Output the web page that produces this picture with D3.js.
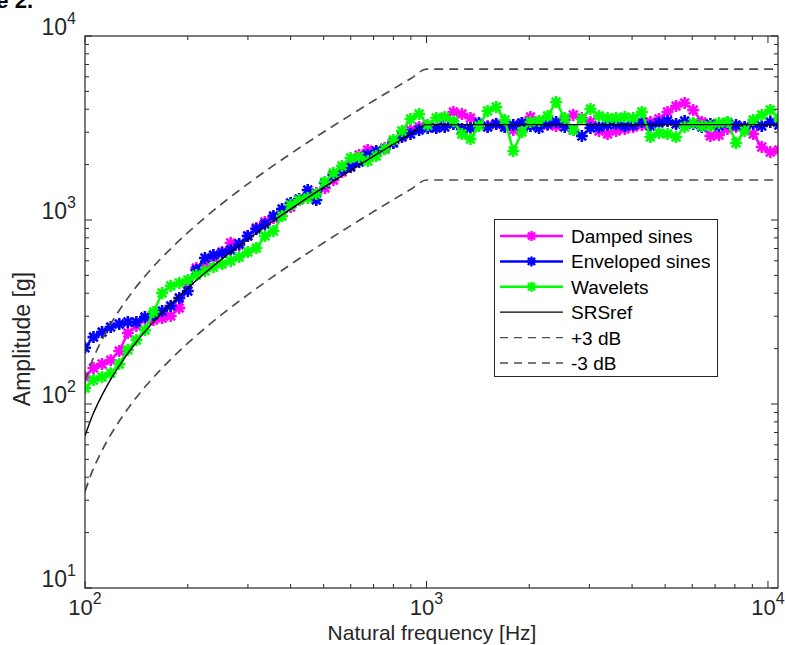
<!DOCTYPE html>
<html><head><meta charset="utf-8">
<script src="https://cdn.jsdelivr.net/npm/d3@7/dist/d3.min.js"></script>
<style>body{margin:0;background:#fff;} text{font-family:"Liberation Sans",Arial,Helvetica,sans-serif;}</style>
</head><body><svg id="chart" width="785" height="645"></svg>
<script>
// ---- data ----
const freq = [100,105.9,112.2,118.9,126,133.5,141.4,149.8,158.7,168.2,178.2,188.8,200,211.9,224.5,237.8,252,267,282.8,299.7,317.5,336.4,356.4,377.6,400,423.8,449,475.7,504,534,565.7,599.3,635,672.7,712.7,755.1,800,847.6,898,951.4,1008,1068,1131,1199,1270,1345,1425,1510,1600,1695,1796,1903,2016,2136,2263,2397,2540,2691,2851,3021,3200,3390,3592,3806,4032,4272,4525,4795,5080,5382,5702,6041,6400,6781,7184,7611,8063,8543,9051,9589,10159,10763];
const damped = [140,157,165,173,194,243,265,290,286,293,301,332,449,548,562,622,670,750,731,819,905,975,1025,1105,1177,1285,1351,1402,1492,1650,1823,1966,2256,2401,2342,2462,2654,2861,3084,3202,3283,3202,3584,3864,3769,3584,3324,3242,3324,3202,3084,3366,3629,3451,3283,3242,3495,3721,3584,3409,3046,2934,3046,3123,3202,3283,3409,3539,3864,4165,4323,3962,3409,2861,2897,3123,3202,3162,2934,2493,2342,2401];
const enveloped = [202,231,246,262,272,279,279,297,305,320,341,377,411,535,622,645,662,687,741,819,894,951,1051,1148,1237,1301,1456,1285,1589,1756,1869,1941,2066,2256,2371,2431,2621,2826,2934,3084,3162,3162,3202,3324,3123,3162,3366,3202,3324,3202,3283,3366,3242,3162,3324,3409,3202,3084,2861,3162,3202,3283,3324,3242,3283,3409,3242,3366,3451,3324,3451,3324,3202,3324,3242,3366,3283,3202,3324,3242,3409,3283];
const wavelets = [122,135,140,147,165,197,223,252,316,401,438,455,472,502,528,555,577,599,630,670,704,819,871,1051,1207,1285,1317,1384,1609,1800,1966,2173,2200,2093,2227,2431,2721,3046,3539,3769,3283,3584,3629,3451,2934,2755,3242,3913,4113,3495,2371,3008,3409,3451,3675,4378,3584,3084,3539,4012,3675,3584,3584,3629,3584,3864,2826,2971,2934,2826,3202,3366,3242,3242,3366,3409,2621,3046,3495,3721,3962,3584];
const refFreq = [100,105,110,115,120,130,140,150,165,180,200,225,250,300,350,400,500,600,700,800,900,1000,10700];
const srsRef = [67,86,104,122,140,176,212,248,302,355,427,517,607,786,966,1145,1504,1863,2222,2581,2940,3300,3300];
const plus3dB = [134,172,208,244,280,352,424,496,604,710,854,1034,1214,1572,1932,2290,3008,3726,4444,5162,5880,6600,6600];
const minus3dB = [33.5,43,52,61,70,88,106,124,151,178,214,259,304,393,483,573,752,932,1111,1291,1470,1650,1650];
const xTickExps = [2,3,4];
const yTickExps = [1,2,3,4];
const legendNames = ["Damped sines","Enveloped sines","Wavelets","SRSref","+3 dB","-3 dB"];
const xLabel = "Natural frequency [Hz]";
const yLabel = "Amplitude [g]";

// ---- layout ----
const L=85, R=778, T=36, B=588;
const svg = d3.select("#chart");
const x = d3.scaleLog().domain([100,10700]).range([L,R]);
const y = d3.scaleLog().domain([10,10000]).range([B,T]);
const axisCol = "#262626";

svg.append("rect").attr("width",785).attr("height",645).attr("fill","#fff");

// fragment of page caption at top-left
svg.append("text").attr("x",33).attr("y",8).attr("text-anchor","end")
  .attr("font-size",22).attr("font-weight","bold").attr("fill","#000").text("Figure 2.");

svg.append("defs").append("clipPath").attr("id","clip")
  .append("rect").attr("x",L).attr("y",T).attr("width",R-L).attr("height",B-T);

const g = svg.append("g").attr("clip-path","url(#clip)");

const lineData = d3.line().x(d=>x(d[0])).y(d=>y(d[1]));
const star = r => { const a=r*0.72; return `M${-r},0H${r}M0,${-r}V${r}M${-a},${-a}L${a},${a}M${-a},${a}L${a},${-a}`; };

const series = [
  {name:legendNames[0], vals:damped, col:"#ff00ff"},
  {name:legendNames[1], vals:enveloped, col:"#0000ff"},
  {name:legendNames[2], vals:wavelets, col:"#00ff00"}
];
series.forEach(s=>{
  const pts = freq.map((f,i)=>[f,s.vals[i]]);
  g.append("path").attr("d",lineData(pts)).attr("fill","none")
    .attr("stroke",s.col).attr("stroke-width",2.5).attr("stroke-linejoin","round");
  g.selectAll(null).data(pts).enter().append("path")
    .attr("transform",d=>`translate(${x(d[0])},${y(d[1])})`)
    .attr("d",star(6)).attr("stroke",s.col).attr("stroke-width",2.6).attr("fill","none");
});
const refPts = refFreq.map((f,i)=>[f,srsRef[i]]);
g.append("path").attr("d",d3.line().curve(d3.curveMonotoneX).x(d=>x(d[0])).y(d=>y(d[1]))(refPts))
  .attr("fill","none").attr("stroke","#000").attr("stroke-width",1.4);
[plus3dB, minus3dB].forEach(arr=>{
  const pts = refFreq.map((f,i)=>[f,arr[i]]);
  g.append("path").attr("d",d3.line().curve(d3.curveMonotoneX).x(d=>x(d[0])).y(d=>y(d[1]))(pts))
    .attr("fill","none").attr("stroke","#4d4d4d").attr("stroke-width",1.7).attr("stroke-dasharray","9,6");
});

// ---- axes box & ticks ----
svg.append("rect").attr("x",L).attr("y",T).attr("width",R-L).attr("height",B-T)
  .attr("fill","none").attr("stroke",axisCol).attr("stroke-width",1.2);
const isMajor = v => Math.abs(Math.log10(v) - Math.round(Math.log10(v))) < 1e-6;
x.ticks().forEach(v=>{
  const px = x(v), len = isMajor(v)?7:4;
  svg.append("line").attr("x1",px).attr("x2",px).attr("y1",B).attr("y2",B-len).attr("stroke",axisCol);
  svg.append("line").attr("x1",px).attr("x2",px).attr("y1",T).attr("y2",T+len).attr("stroke",axisCol);
});
y.ticks().forEach(v=>{
  const py = y(v), len = isMajor(v)?7:4;
  svg.append("line").attr("x1",L).attr("x2",L+len).attr("y1",py).attr("y2",py).attr("stroke",axisCol);
  svg.append("line").attr("x1",R).attr("x2",R-len).attr("y1",py).attr("y2",py).attr("stroke",axisCol);
});
xTickExps.forEach(e=>{
  const t = svg.append("text").attr("x",x(Math.pow(10,e))).attr("y",615).attr("text-anchor","middle")
    .attr("font-size",22).attr("fill",axisCol);
  t.append("tspan").text("10");
  t.append("tspan").attr("dy",-11).attr("font-size",16).text(e);
});
yTickExps.forEach(e=>{
  const t = svg.append("text").attr("x",76).attr("y",y(Math.pow(10,e))-1).attr("text-anchor","end")
    .attr("font-size",23).attr("fill",axisCol);
  t.append("tspan").text("10");
  t.append("tspan").attr("dy",-11).attr("font-size",16).text(e);
});
svg.append("text").attr("x",432).attr("y",640).attr("text-anchor","middle")
  .attr("font-size",21).attr("fill",axisCol).text(xLabel);
svg.append("text").attr("transform","translate(30,339) rotate(-90)").attr("text-anchor","middle")
  .attr("font-size",23).attr("fill",axisCol).text(yLabel);

// ---- legend ----
const lg = svg.append("g");
lg.append("rect").attr("x",494.5).attr("y",219.5).attr("width",223).attr("height",157)
  .attr("fill","#fff").attr("stroke",axisCol).attr("stroke-width",1);
const legStyles = [
  {col:"#ff00ff", w:2.5, dash:null, mk:true},
  {col:"#0000ff", w:2.5, dash:null, mk:true},
  {col:"#00ff00", w:2.5, dash:null, mk:true},
  {col:"#000", w:1.2, dash:null, mk:false},
  {col:"#4d4d4d", w:1.4, dash:"8,6", mk:false},
  {col:"#4d4d4d", w:1.4, dash:"8,6", mk:false}
];
legendNames.forEach((n,i)=>{
  const cy = 236 + i*25.4, st = legStyles[i];
  const ln = lg.append("line").attr("x1",500).attr("x2",563).attr("y1",cy).attr("y2",cy)
    .attr("stroke",st.col).attr("stroke-width",st.w);
  if(st.dash) ln.attr("stroke-dasharray",st.dash);
  if(st.mk) lg.append("path").attr("transform",`translate(531.5,${cy})`).attr("d",star(5))
    .attr("stroke",st.col).attr("stroke-width",2.4).attr("fill","none");
  lg.append("text").attr("x",571).attr("y",cy+7).attr("font-size",19).attr("fill","#000").text(n);
});
</script></body></html>
